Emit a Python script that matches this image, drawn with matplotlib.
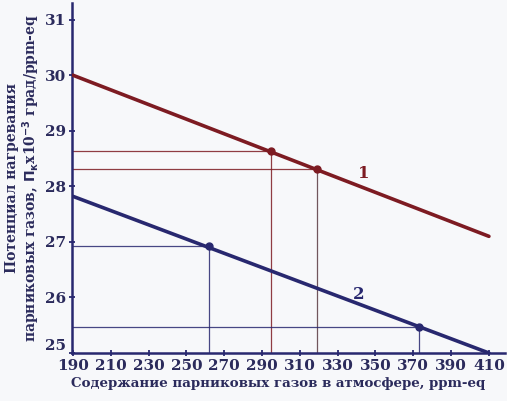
import matplotlib
matplotlib.use("Agg")
import matplotlib.pyplot as plt
import matplotlib.transforms as mtransforms

# Data
x_ticks = [190, 210, 230, 250, 270, 290, 310, 330, 350, 370, 390, 410]
y_ticks = [25, 26, 27, 28, 29, 30, 31]
line1_x = [190, 410]
line1_y = [30.0, 27.1]
line2_x = [190, 410]
line2_y = [27.82, 25.0]
pts1_x = [295, 319]
pts1_y = [28.63, 28.31]
pts2_x = [262, 373]
pts2_y = [26.93, 25.47]
labels = ["1", "2"]
label_x = [344, 341]
label_y = [28.24, 26.05]

red = "#7d1b22"
blue = "#28286f"
txt = "#2b2b5c"
bg = "#f7f8fa"

fig = plt.figure(figsize=(5.07, 4.01), dpi=100, facecolor=bg)
ax = fig.add_axes([72/507, 48/401, 433/507, 350/401], facecolor=bg)

ax.set_xlim(189.5, 418.5)
ax.set_ylim(25, 31.3)

# guide lines
for xs, ys, c in [(pts1_x, pts1_y, red), (pts2_x, pts2_y, blue)]:
    for i, (xv, yv) in enumerate(zip(xs, ys)):
        ax.plot([189.5, xv], [yv, yv], color=c, lw=0.9, alpha=0.85, zorder=2)
        vc = c if not (c == red and i == 1) else "#5a3a40"
        ax.plot([xv, xv], [25, yv], color=vc, lw=0.9, alpha=0.85, zorder=2)

ax.plot(line1_x, line1_y, color=red, lw=2.6, zorder=3, solid_capstyle="round")
ax.plot(line2_x, line2_y, color=blue, lw=2.6, zorder=3, solid_capstyle="round")
ax.plot(pts1_x, pts1_y, "o", color=red, ms=5, zorder=4)
ax.plot(pts2_x, pts2_y, "o", color=blue, ms=5, zorder=4)

ax.text(label_x[0], label_y[0], labels[0], color=red, fontsize=12,
        fontweight="bold", family="DejaVu Serif", ha="center", va="center")
ax.text(label_x[1], label_y[1], labels[1], color=blue, fontsize=12,
        fontweight="bold", family="DejaVu Serif", ha="center", va="center")

for s in ["top", "right"]:
    ax.spines[s].set_visible(False)
for s in ["left", "bottom"]:
    ax.spines[s].set_color(blue)
    ax.spines[s].set_linewidth(1.8)

ax.set_xticks(x_ticks)
ax.set_yticks(y_ticks)
ax.tick_params(axis="both", direction="inout", length=5, width=1.3,
               color=blue, labelcolor=txt, labelsize=11, pad=2)
for lab in ax.get_xticklabels() + ax.get_yticklabels():
    lab.set_fontweight("bold")
    lab.set_family("DejaVu Serif")

# lift the "25" label a little off the x axis, as in the reference
ylabs = ax.get_yticklabels()
ylabs[0].set_transform(ylabs[0].get_transform() +
                       mtransforms.ScaledTranslation(0, 8/100, fig.dpi_scale_trans))

ax.set_xlabel("Содержание парниковых газов в атмосфере, ppm-eq",
              fontsize=9.6, fontweight="bold", family="DejaVu Serif",
              color=txt, labelpad=3)
ax.xaxis.set_label_coords(0.476, -0.07)
ax.set_ylabel("Потенциал нагревания\nпарниковых газов, $\\mathbf{П_к}$x10$^{\\mathbf{-3}}$ град/ppm-eq",
              fontsize=10, fontweight="bold", family="DejaVu Serif",
              color=txt, labelpad=2, linespacing=1.05)

fig.savefig("out.png", dpi=100, facecolor=bg)
